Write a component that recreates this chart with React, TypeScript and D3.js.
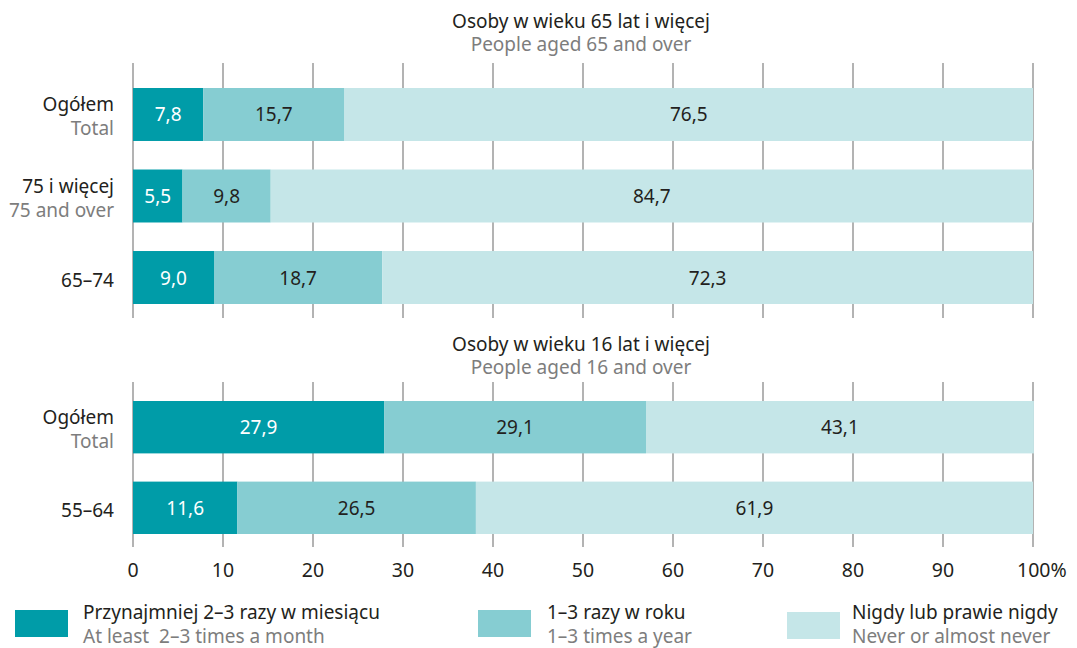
import React from "react";
import * as d3 from "d3";

const seriesKeys = ["often", "yearly", "never"];
const seriesColors = ["#009ca8", "#86cdd2", "#c5e6e8"];
const valueTextColors = ["#ffffff", "#231f20", "#231f20"];
const legendPl = ["Przynajmniej 2–3 razy w miesiącu", "1–3 razy w roku", "Nigdy lub prawie nigdy"];
const legendEn = ["At least  2–3 times a month", "1–3 times a year", "Never or almost never"];

const topTitlePl = "Osoby w wieku 65 lat i więcej";
const topTitleEn = "People aged 65 and over";
const topCatsPl = ["Ogółem", "75 i więcej", "65–74"];
const topCatsEn = ["Total", "75 and over", ""];
const topOften = [7.8, 5.5, 9.0];
const topYearly = [15.7, 9.8, 18.7];
const topNever = [76.5, 84.7, 72.3];

const botTitlePl = "Osoby w wieku 16 lat i więcej";
const botTitleEn = "People aged 16 and over";
const botCatsPl = ["Ogółem", "55–64"];
const botCatsEn = ["Total", ""];
const botOften = [27.9, 11.6];
const botYearly = [29.1, 26.5];
const botNever = [43.1, 61.9];

const xTicks = [0, 10, 20, 30, 40, 50, 60, 70, 80, 90, 100];

const FONT = "'Noto Sans', sans-serif";
const DARK = "#231f20";
const GREY = "#7d7d7d";
const GRID = "#808080";
const FS = 19;
const fmt = (v: number) => v.toFixed(1).replace(".", ",");

const x = d3.scaleLinear().domain([0, 100]).range([133, 1033]);

type PanelProps = {
  catsPl: string[];
  catsEn: string[];
  often: number[];
  yearly: number[];
  never: number[];
  titlePl: string;
  titleEn: string;
  titleY: number;
  gridTop: number;
  gridBottom: number;
  bandRange: [number, number];
};

function Panel(p: PanelProps) {
  const y = d3.scaleBand<string>().domain(p.catsPl).range(p.bandRange).paddingInner(0.35).paddingOuter(0);
  const rows = p.catsPl.map((c, i) => ({ cat: c, en: p.catsEn[i], often: p.often[i], yearly: p.yearly[i], never: p.never[i] }));
  const stack = d3.stack<any>().keys(seriesKeys)(rows);
  const cx = (x(0) + x(100)) / 2;
  return (
    <g>
      <text x={cx - 2} y={p.titleY} textAnchor="middle" fontSize={FS} fill={DARK}>{p.titlePl}</text>
      <text x={cx - 2} y={p.titleY + 23} textAnchor="middle" fontSize={FS} fill={GREY}>{p.titleEn}</text>
      {xTicks.map((t) => (
        <line key={t} x1={x(t)} x2={x(t)} y1={p.gridTop} y2={p.gridBottom} stroke={GRID} strokeWidth={1.2} />
      ))}
      {stack.map((layer, si) => (
        <g key={si}>
          {layer.map((d, ri) => {
            const yy = y(rows[ri].cat) as number;
            const bw = y.bandwidth();
            const x0 = x(d[0]);
            const x1 = x(d[1]);
            const v = d[1] - d[0];
            return (
              <g key={ri}>
                <rect x={x0} y={yy} width={x1 - x0} height={bw} fill={seriesColors[si]} />
                <text x={(x0 + x1) / 2} y={yy + bw / 2 + 7} textAnchor="middle" fontSize={FS} fill={valueTextColors[si]}>
                  {fmt(v)}
                </text>
              </g>
            );
          })}
        </g>
      ))}
      {rows.map((r) => {
        const c = (y(r.cat) as number) + y.bandwidth() / 2;
        return r.en ? (
          <g key={r.cat}>
            <text x={114} y={c - 3} textAnchor="end" fontSize={FS} fill={DARK}>{r.cat}</text>
            <text x={114} y={c + 20.5} textAnchor="end" fontSize={FS} fill={GREY}>{r.en}</text>
          </g>
        ) : (
          <text key={r.cat} x={114} y={c + 9} textAnchor="end" fontSize={FS} fill={DARK}>{r.cat}</text>
        );
      })}
    </g>
  );
}

export default function App() {
  const legendSw = [[15, 68, 610], [478, 531, 610], [787, 840, 612]];
  const legendTx = [83, 547, 852];
  return (
    <svg width={1077} height={648} style={{ position: "absolute", left: 0, top: 0 }} fontFamily={FONT}>
      <rect width={1077} height={648} fill="#ffffff" />
      <Panel
        catsPl={topCatsPl} catsEn={topCatsEn} often={topOften} yearly={topYearly} never={topNever}
        titlePl={topTitlePl} titleEn={topTitleEn} titleY={28} gridTop={63} gridBottom={318} bandRange={[88, 304]}
      />
      <Panel
        catsPl={botCatsPl} catsEn={botCatsEn} often={botOften} yearly={botYearly} never={botNever}
        titlePl={botTitlePl} titleEn={botTitleEn} titleY={351} gridTop={382} gridBottom={547} bandRange={[401, 534]}
      />
      {xTicks.map((t) => (
        <text key={t} x={t === 100 ? x(t) - 16 : x(t)} y={577} textAnchor={t === 100 ? "start" : "middle"} fontSize={19.5} fill={DARK}>
          {t === 100 ? "100%" : t}
        </text>
      ))}
      {legendPl.map((l, i) => (
        <g key={i}>
          <rect x={legendSw[i][0]} y={legendSw[i][2]} width={legendSw[i][1] - legendSw[i][0]} height={27} fill={seriesColors[i]} />
          <text x={legendTx[i]} y={619} fontSize={FS} fill={DARK}>{l}</text>
          <text x={legendTx[i]} y={643} fontSize={FS} fill={GREY} style={{ whiteSpace: "pre" }}>{legendEn[i]}</text>
        </g>
      ))}
    </svg>
  );
}
